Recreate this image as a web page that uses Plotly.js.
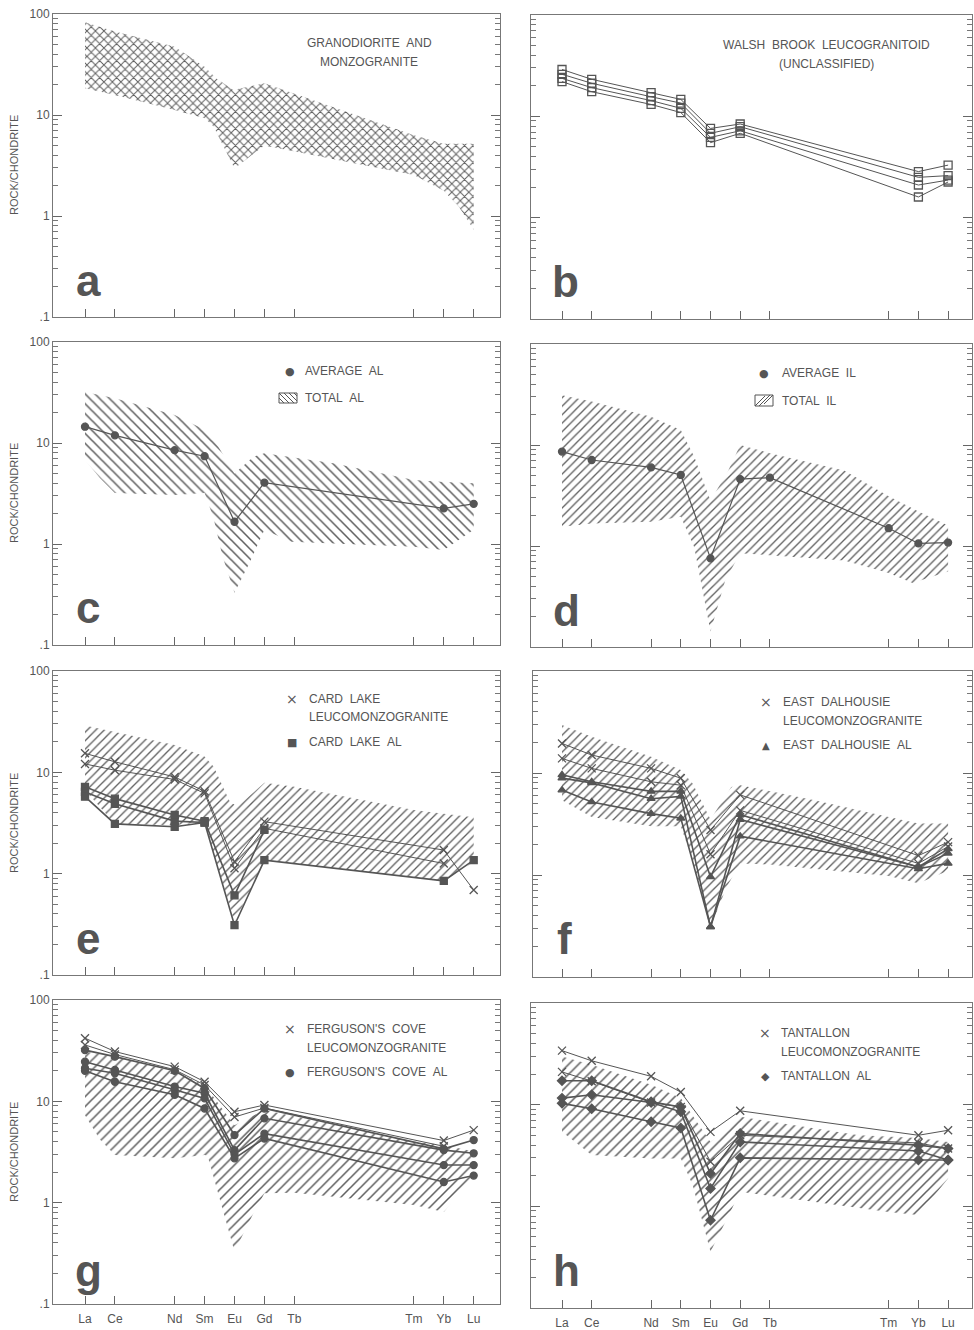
<!DOCTYPE html>
<html><head><meta charset="utf-8">
<script src="https://cdn.plot.ly/plotly-3.0.1.min.js"></script>
<style>html,body{margin:0;padding:0;background:#fff}#chart{width:974px;height:1330px}</style>
</head><body><div id="chart"></div>
<script>
// ---------- categories ----------
const ELEMENTS = ['La','Ce','Pr','Nd','Sm','Eu','Gd','Tb','Dy','Ho','Er','Tm','Yb','Lu'];
const TICK_ELEMENTS = ['La','Ce','Nd','Sm','Eu','Gd','Tb','Tm','Yb','Lu'];
const SAMPLE_REE = ['La','Ce','Nd','Sm','Eu','Gd','Yb','Lu'];
const IL_REE = ['La','Ce','Nd','Sm','Eu','Gd','Tb','Tm','Yb','Lu'];
const Y_TICKS = [0.1, 1, 10, 100];
const Y_TICK_TEXT = ['.1', '1', '10', '100'];

// ---------- (a) granodiorite & monzogranite field ----------
const A_BAND_UP_X = [0,1,3,4,4.4,4.96,6,11,12,13];
const A_BAND_UP_Y = [83,67,47.5,30,23,17.7,20.6,6.3,5.2,5.2];
const A_BAND_LO_X = [0,1,3,4,4.3,5,6,11,12,12.5,13];
const A_BAND_LO_Y = [18.4,15.8,11.2,9.3,7.7,2.96,5.0,2.55,1.78,1.24,0.73];

// ---------- (b) Walsh Brook leucogranitoid ----------
const B_S1 = [29, 23.2, 17.1, 14.7, 7.6, 8.4, 2.85, 3.3];
const B_S2 = [26, 21.2, 15.6, 13.5, 6.8, 7.9, 2.5, 2.6];
const B_S3 = [23.7, 19.2, 14.3, 12.0, 6.2, 7.2, 2.1, 2.35];
const B_S4 = [22, 17.5, 13.1, 10.9, 5.5, 6.8, 1.6, 2.25];

// ---------- (c) average / total AL ----------
const C_AVG_AL = [14.5, 11.9, 8.5, 7.4, 1.66, 4.05, 2.25, 2.5];
const C_BAND_UP_X = [0,1,3,4,4.46,5,5.63,6,8.3,11,12,13];
const C_BAND_UP_Y = [32,27.7,18.9,13.5,9.2,5.0,7.3,7.9,6.3,4.3,4.1,4.0];
const C_BAND_LO_X = [0,0.5,1,3,4,4.3,4.6,5,5.5,6,6.9,11,12,13];
const C_BAND_LO_Y = [6.8,4.5,3.2,3.05,3.2,1.8,0.75,0.33,0.65,1.38,1.05,0.94,0.87,1.38];

// ---------- (d) average / total IL ----------
const D_AVG_IL = [8.6, 7.1, 6.0, 5.05, 0.755, 4.6, 4.75, 1.5, 1.06, 1.08];
const D_BAND_UP_X = [0,1,3,4,4.45,5,5.6,6,7,9.5,11,12,13];
const D_BAND_UP_Y = [31,26.9,19,14.1,7.7,2.8,5.6,10,8.3,5.6,3.1,2.2,1.6];
const D_BAND_LO_X = [0,1,3,4,4.45,5,5.5,6,7,9.5,11,11.8,13];
const D_BAND_LO_Y = [1.55,1.67,1.74,1.95,0.98,0.142,0.46,0.85,0.81,0.72,0.54,0.43,0.56];

// ---------- (e) Card Lake ----------
const E_LEUCO_1 = [15.4, 12.7, 9.0, 6.5, 1.31, 3.26, 1.71, 0.69];
const E_LEUCO_2 = [12.1, 10.5, 8.5, 6.2, 1.13, 2.8, 1.26, null];
const E_AL_1 = [7.2, 5.5, 3.8, 3.3, 0.61, 2.7, null, null];
const E_AL_2 = [6.4, 4.9, 3.3, 3.2, 0.31, 1.36, 0.85, 1.36];
const E_AL_3 = [5.75, 3.1, 2.9, 3.2, null, null, null, null];
const E_BAND_UP_X = [0,1,3,4,4.3,4.85,5.1,6,7,11,12,13];
const E_BAND_UP_Y = [29,25,18.6,14.3,11.4,5.1,4.6,7.9,7.2,4.25,3.9,3.6];
const E_BAND_LO_X = [0,1,3,4,5,6,12,13];
const E_BAND_LO_Y = [6.7,3.1,3.0,3.26,0.33,1.36,0.84,1.3];

// ---------- (f) East Dalhousie ----------
const F_LEUCO_1 = [19.5, 15, 11.1, 8.9, 2.76, 6.1, 1.55, 2.1];
const F_LEUCO_2 = [13.9, 11.1, 8.2, 7.6, 1.6, 4.3, 1.3, 1.9];
const F_AL_1 = [9.6, 8.2, 6.6, 6.6, 0.96, 3.9, 1.2, 1.8];
const F_AL_2 = [8.9, 8.0, 5.6, 5.9, 0.31, 3.5, 1.2, 1.63];
const F_AL_3 = [6.8, 5.2, 4.0, 3.6, 0.31, 2.4, 1.15, 1.3];
const F_BAND_UP_X = [0,1,3,4,4.4,5,5.7,6,8.5,11,12,13];
const F_BAND_UP_Y = [29.5,22.7,14.4,10.7,7.9,3.5,7.3,7.6,5.4,3.7,3.2,3.2];
const F_BAND_LO_X = [0,1,3,4,4.4,5,5.55,6,7,11,12,13];
const F_BAND_LO_Y = [5.4,3.7,3.0,3.0,1.4,0.31,0.77,1.3,1.27,0.98,0.83,1.1];

// ---------- (g) Ferguson's Cove ----------
const G_LEUCO_1 = [42, 31, 22, 15.6, 7.9, 9.2, 4.1, 5.2];
const G_LEUCO_2 = [36, 29, 20.5, 14.5, 7.0, 8.6, 3.6, null];
const G_AL_1 = [32, 27.6, 20, 13.4, 4.65, 8.5, 3.4, 4.15];
const G_AL_2 = [24.6, 20.4, 14, 12, 3.3, 6.8, 3.3, 3.07];
const G_AL_3 = [21.2, 18.9, 13, 10.7, 3.0, 4.8, 2.35, 2.35];
const G_AL_4 = [20, 15.6, 11.6, 8.5, 2.74, 4.3, 1.6, 1.85];
const G_BAND_UP_X = [0,1,3,4,5,6,11,12,13];
const G_BAND_UP_Y = [31,27.6,19.6,14.5,5.8,8.2,4.0,3.7,3.2];
const G_BAND_LO_X = [0,0.5,1,3,4,4.1,5,5.6,6,7,11,12,13];
const G_BAND_LO_Y = [7.3,4.2,2.95,2.75,2.95,2.9,0.33,0.75,1.24,1.25,0.95,0.81,1.85];

// ---------- (h) Tantallon ----------
const H_LEUCO_1 = [34, 27, 19, 13.3, 5.4, 8.7, 5.0, 5.6];
const H_LEUCO_2 = [21, 17, 10.5, 9.5, 2.75, 5.0, 4.2, 3.7];
const H_AL_1 = [17.2, 17.2, 10.7, 9.5, 2.1, 5.2, 4.0, 3.7];
const H_AL_2 = [11.6, 12.5, 10.5, 8.5, 1.5, 4.3, 3.5, 2.86];
const H_AL_3 = [10.3, 9.1, 6.8, 5.9, 0.73, 3.0, 2.86, 2.86];
const H_BAND_UP_X = [0,1,3,4,5,6,10,12,13];
const H_BAND_UP_Y = [29.8,24.7,15.7,11.6,4.3,7.6,5.0,4.7,4.3];
const H_BAND_LO_X = [0,1,3,4,4.4,5,5.5,6,11,12,13];
const H_BAND_LO_Y = [5.4,3.2,2.95,2.95,1.62,0.357,0.70,1.39,0.88,0.82,1.88];

// ================= layout helpers =================
const W = 974, H = 1330;
const PX = x => x / W;
const PY = y => 1 - y / H;
const FONT = 'Liberation Sans, Arial, Helvetica, sans-serif';
const INK = '#555';
const HATCH = '#5e5e5e';
const pos = el => ELEMENTS.indexOf(el);
const SX = SAMPLE_REE.map(pos);
const ILX = IL_REE.map(pos);

// panel frames (px): left/right, top/bottom ; La tick px and element step
const PANELS = [
  {x:[53,500], y:[14,317],   la:85,  step:29.9, labels:true,  xl:false},
  {x:[531,972], y:[15,319],  la:562, step:29.7, labels:false, xl:false},
  {x:[53,500], y:[342,645],  la:85,  step:29.9, labels:true,  xl:false},
  {x:[531,972], y:[344,647], la:562, step:29.7, labels:false, xl:false},
  {x:[53,500], y:[671,975],  la:85,  step:29.9, labels:true,  xl:false},
  {x:[533,972], y:[671,977], la:562, step:29.7, labels:false, xl:false},
  {x:[53,500], y:[1000,1304], la:85, step:29.9, labels:true,  xl:true},
  {x:[531,972], y:[1003,1308], la:562, step:29.7, labels:false, xl:true}
];
const sfx = i => (i === 0 ? '' : String(i + 1));

const minorVals = [];
[-1, 0, 1].forEach(d => { for (let k = 2; k <= 9; k++) minorVals.push(k * Math.pow(10, d)); });

const layout = {
  width: W, height: H, margin: {l:0, r:0, t:0, b:0},
  paper_bgcolor: '#fff', plot_bgcolor: 'rgba(0,0,0,0)',
  showlegend: false, font: {family: FONT, color: INK},
  annotations: [], shapes: []
};

PANELS.forEach((p, i) => {
  const s = sfx(i);
  layout['xaxis' + s] = {
    domain: [PX(p.x[0]), PX(p.x[1])], anchor: 'y' + s,
    range: [(p.x[0] - p.la) / p.step, (p.x[1] - p.la) / p.step],
    tickmode: 'array', tickvals: TICK_ELEMENTS.map(pos), ticktext: TICK_ELEMENTS,
    ticks: 'inside', ticklen: 8, tickwidth: 1, tickcolor: '#666',
    showticklabels: p.xl, tickfont: {size: 12, color: INK, family: FONT}, ticklabelstandoff: 4,
    showline: true, linecolor: '#777', linewidth: 1, mirror: true,
    showgrid: false, zeroline: false, fixedrange: true
  };
  layout['yaxis' + s] = {
    domain: [PY(p.y[1]), PY(p.y[0])], anchor: 'x' + s,
    type: 'log', range: [-1, 2],
    tickmode: 'array', tickvals: Y_TICKS, ticktext: Y_TICK_TEXT,
    ticks: 'inside', ticklen: 9, tickwidth: 1, tickcolor: '#666',
    minor: {tickmode: 'array', tickvals: minorVals, ticks: 'inside', ticklen: 5, tickcolor: '#777', tickwidth: 1, showgrid: false},
    showticklabels: p.labels, tickfont: {size: 12, color: INK, family: FONT},
    showline: true, linecolor: '#777', linewidth: 1, mirror: 'ticks',
    showgrid: false, zeroline: false, fixedrange: true
  };
});

// ================= traces =================
const traces = [];
function band(i, upX, upY, loX, loY, shape, size, sol) {
  const s = sfx(i);
  traces.push({
    type: 'scatter', mode: 'none', fill: 'toself',
    x: upX.concat(loX.slice().reverse()), y: upY.concat(loY.slice().reverse()),
    xaxis: 'x' + s, yaxis: 'y' + s,
    fillcolor: 'rgba(255,255,255,0)',
    fillpattern: {shape: shape, size: size, solidity: sol, fgcolor: HATCH, bgcolor: 'rgba(255,255,255,0)', fillmode: 'replace'},
    hoverinfo: 'skip', showlegend: false
  });
}
function series(i, xs, ys, symbol, msize, lwidth) {
  const s = sfx(i);
  traces.push({
    type: 'scatter', mode: 'lines+markers', x: xs, y: ys,
    xaxis: 'x' + s, yaxis: 'y' + s, connectgaps: false,
    line: {color: INK, width: lwidth},
    marker: {symbol: symbol, size: msize, color: INK, line: {color: INK, width: 1.3}},
    hoverinfo: 'skip', showlegend: false
  });
}

// (a)
band(0, A_BAND_UP_X, A_BAND_UP_Y, A_BAND_LO_X, A_BAND_LO_Y, 'x', 6, 0.3);
// (b)
[B_S1, B_S2, B_S3, B_S4].forEach(v => series(1, SX, v, 'square-open', 8, 1));
// (c)
band(2, C_BAND_UP_X, C_BAND_UP_Y, C_BAND_LO_X, C_BAND_LO_Y, '\\', 7, 0.22);
series(2, SX, C_AVG_AL, 'circle', 7, 1.2);
// (d)
band(3, D_BAND_UP_X, D_BAND_UP_Y, D_BAND_LO_X, D_BAND_LO_Y, '/', 6, 0.22);
series(3, ILX, D_AVG_IL, 'circle', 7, 1.2);
// (e)
band(4, E_BAND_UP_X, E_BAND_UP_Y, E_BAND_LO_X, E_BAND_LO_Y, '/', 6, 0.22);
[E_LEUCO_1, E_LEUCO_2].forEach(v => series(4, SX, v, 'x-thin-open', 8, 1));
[E_AL_1, E_AL_2, E_AL_3].forEach(v => series(4, SX, v, 'square', 7, 1.6));
// (f)
band(5, F_BAND_UP_X, F_BAND_UP_Y, F_BAND_LO_X, F_BAND_LO_Y, '/', 6, 0.22);
[F_LEUCO_1, F_LEUCO_2].forEach(v => series(5, SX, v, 'x-thin-open', 8, 1));
[F_AL_1, F_AL_2, F_AL_3].forEach(v => series(5, SX, v, 'triangle-up', 7, 1.6));
// (g)
band(6, G_BAND_UP_X, G_BAND_UP_Y, G_BAND_LO_X, G_BAND_LO_Y, '/', 7, 0.22);
[G_LEUCO_1, G_LEUCO_2].forEach(v => series(6, SX, v, 'x-thin-open', 8, 1));
[G_AL_1, G_AL_2, G_AL_3, G_AL_4].forEach(v => series(6, SX, v, 'circle', 7, 1.6));
// (h)
band(7, H_BAND_UP_X, H_BAND_UP_Y, H_BAND_LO_X, H_BAND_LO_Y, '/', 7, 0.22);
[H_LEUCO_1, H_LEUCO_2].forEach(v => series(7, SX, v, 'x-thin-open', 8, 1));
[H_AL_1, H_AL_2, H_AL_3].forEach(v => series(7, SX, v, 'diamond', 7, 1.6));

// ================= annotations (texts, keys, letters) =================
const A = layout.annotations;
function txt(x, y, t, anchor, size, extra) {
  A.push(Object.assign({xref: 'paper', yref: 'paper', x: PX(x), y: PY(y), text: t, showarrow: false,
    xanchor: anchor || 'left', yanchor: 'middle', font: {size: size || 12, color: INK, family: FONT}}, extra || {}));
}
const sp = '\u00a0\u00a0';
// panel legends
txt(369, 43, 'GRANODIORITE' + sp + 'AND', 'center');
txt(369, 62, 'MONZOGRANITE', 'center');
txt(826, 45, 'WALSH' + sp + 'BROOK' + sp + 'LEUCOGRANITOID', 'center');
txt(826, 64, '(UNCLASSIFIED)', 'center');

const DOT = 11, SQ = 11, TRI = 10, DIA = 11, XS = 14;
const SYMF = 'DejaVu Sans, Liberation Sans, sans-serif';
function sym(x, y, ch, size) { txt(x, y, ch, 'center', size, {font: {size: size, color: INK, family: SYMF}}); }

sym(290, 371, '●', DOT);
txt(303, 371, 'AVERAGE' + sp + 'AL');
txt(303, 398, 'TOTAL' + sp + 'AL');

sym(764, 373, '●', DOT);
txt(780, 373, 'AVERAGE' + sp + 'IL');
txt(780, 401, 'TOTAL' + sp + 'IL');

sym(292, 699, '×', XS);
txt(307, 699, 'CARD' + sp + 'LAKE');
txt(307, 717, 'LEUCOMONZOGRANITE');
sym(292, 742, '■', SQ);
txt(307, 742, 'CARD' + sp + 'LAKE' + sp + 'AL');

sym(766, 702, '×', XS);
txt(781, 702, 'EAST' + sp + 'DALHOUSIE');
txt(781, 721, 'LEUCOMONZOGRANITE');
sym(766, 745, '▲', TRI);
txt(781, 745, 'EAST' + sp + 'DALHOUSIE' + sp + 'AL');

sym(290, 1029, '×', XS);
txt(305, 1029, "FERGUSON'S" + sp + 'COVE');
txt(305, 1048, 'LEUCOMONZOGRANITE');
sym(290, 1072, '●', DOT);
txt(305, 1072, "FERGUSON'S" + sp + 'COVE' + sp + 'AL');

sym(765, 1033, '×', XS);
txt(779, 1033, 'TANTALLON');
txt(779, 1052, 'LEUCOMONZOGRANITE');
sym(765, 1076, '◆', DIA);
txt(779, 1076, 'TANTALLON' + sp + 'AL');

// panel letters
[['a',88,280],['b',565,282],['c',88,607],['d',566,610],['e',88,938],['f',564,938],['g',88,1270],['h',566,1270]]
  .forEach(l => txt(l[1], l[2], '<b>' + l[0] + '</b>', 'center', 44, {font: {size: 44, color: '#555', family: FONT}}));

// y-axis titles
[165, 493, 823, 1152].forEach(y => txt(14, y, 'ROCK/CHONDRITE', 'center', 11, {textangle: -90}));

// hatched key boxes (c: '\', d: '/')
const S = layout.shapes;
function seg(x0, y0, x1, y1) {
  S.push({type: 'line', xref: 'paper', yref: 'paper', x0: PX(x0), y0: PY(y0), x1: PX(x1), y1: PY(y1), line: {color: '#555', width: 1}});
}
function keyBox(x0, y0, x1, y1, back) {
  S.push({type: 'rect', xref: 'paper', yref: 'paper', x0: PX(x0), y0: PY(y1), x1: PX(x1), y1: PY(y0), line: {color: '#555', width: 1}});
  const h = y1 - y0;
  for (let k = -h; k < (x1 - x0); k += 5) {
    let a = x0 + k, b = a + h;
    let ya = y0, yb = y1;
    if (a < x0) { ya = y0 + (x0 - a); a = x0; }
    if (b > x1) { yb = y1 - (b - x1); b = x1; }
    if (b - a < 1) continue;
    if (back) seg(a, ya, b, yb); else seg(a, yb, b, ya);
  }
}
keyBox(279, 393, 297, 403, true);
keyBox(755, 395, 773, 406, false);

Plotly.newPlot('chart', traces, layout, {displayModeBar: false, staticPlot: true});
</script>
</body></html>
